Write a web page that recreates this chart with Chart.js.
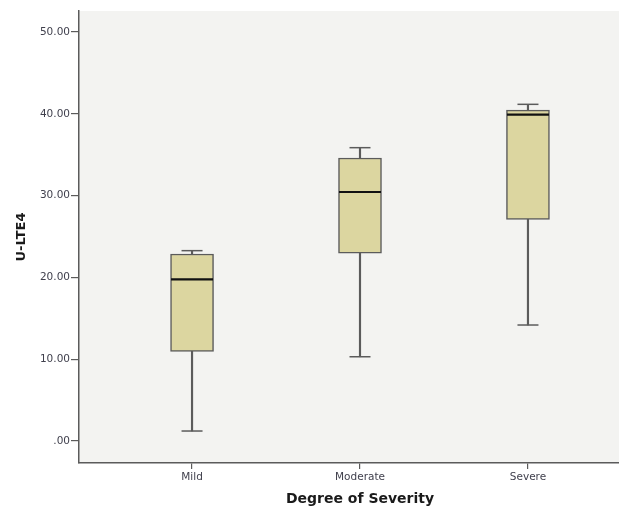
<!DOCTYPE html>
<html>
<head>
<meta charset="utf-8">
<script src="https://cdn.jsdelivr.net/npm/chart.js@4.4.1/dist/chart.umd.min.js"></script>
<style>
  html, body { margin: 0; padding: 0; background: #ffffff; overflow: hidden; }
  canvas { display: block; }
</style>
</head>
<body>
<canvas id="c" width="645" height="509" style="width:645px;height:509px"></canvas>
<script>
// ---- data ----
const categories = ['Mild', 'Moderate', 'Severe'];
const whiskerMin = [1.22, 10.30, 14.18];
const q1Values   = [10.96, 22.95, 27.10];
const medians    = [19.77, 30.44, 39.90];
const q3Values   = [22.86, 34.60, 40.46];
const whiskerMax = [23.27, 35.86, 41.16];
const yTicks     = [0, 10, 20, 30, 40, 50];
const yTitle = 'U-LTE4';
const xTitle = 'Degree of Severity';

const xPos = categories.map((c, i) => i + 1);

const lineCol = '#5b5b5b';
const boxFill = 'rgb(220,214,160)';

const plotBg = {
  id: 'plotBg',
  beforeDraw(chart) {
    const {ctx, chartArea: a} = chart;
    ctx.save();
    ctx.fillStyle = '#f3f3f1';
    ctx.fillRect(a.left, a.top, a.right - a.left, a.bottom - a.top);
    ctx.restore();
  }
};

const capStyle = {
  type: 'line', showLine: false, pointStyle: 'line', pointRadius: 10.5,
  pointHoverRadius: 10.5, pointBorderWidth: 1.5, pointBorderColor: lineCol,
  borderColor: lineCol, order: 1
};

new Chart(document.getElementById('c'), {
  type: 'bar',
  data: {
    datasets: [
      { // upper whisker stem
        data: xPos.map((x, i) => ({x, y: [q3Values[i], whiskerMax[i]]})),
        backgroundColor: lineCol, borderWidth: 0, barThickness: 1.5, grouped: false, order: 3
      },
      { // lower whisker stem
        data: xPos.map((x, i) => ({x, y: [whiskerMin[i], q1Values[i]]})),
        backgroundColor: lineCol, borderWidth: 0, barThickness: 1.5, grouped: false, order: 3
      },
      { // box
        data: xPos.map((x, i) => ({x, y: [q1Values[i], q3Values[i]]})),
        backgroundColor: boxFill, borderColor: lineCol, borderWidth: 1.5,
        borderSkipped: false, barThickness: 43, grouped: false, order: 2
      },
      Object.assign({ data: xPos.map((x, i) => ({x, y: whiskerMax[i]})) }, capStyle),
      Object.assign({ data: xPos.map((x, i) => ({x, y: whiskerMin[i]})) }, capStyle),
      { // median
        type: 'line', showLine: false, pointStyle: 'line', pointRadius: 21,
        pointHoverRadius: 21, pointBorderWidth: 2.2, pointBorderColor: '#111',
        borderColor: '#111', order: 0,
        data: xPos.map((x, i) => ({x, y: medians[i]}))
      }
    ]
  },
  options: {
    responsive: false,
    devicePixelRatio: 1,
    animation: false,
    events: [],
    layout: { autoPadding: false, padding: { top: 11, right: 4, left: 0, bottom: 0 } },
    plugins: { legend: { display: false }, tooltip: { enabled: false } },
    scales: {
      x: {
        type: 'linear',
        offset: false,
        min: 0.327,
        max: 3.673,
        afterFit(s) { s.height = 46; s.paddingLeft = 0; s.paddingRight = 0; },
        afterBuildTicks(s) { s.ticks = xPos.map(v => ({value: v})); },
        grid: { offset: false, drawOnChartArea: false, drawTicks: true, tickLength: 6, color: lineCol, lineWidth: 1.2 },
        border: { color: lineCol, width: 1.5 },
        ticks: {
          padding: 2, color: '#3f3f4c', maxRotation: 0,
          font: { family: 'DejaVu Sans', size: 10.5 },
          callback: v => categories[v - 1] ?? ''
        },
        title: {
          display: true, text: xTitle, color: '#1a1a1a',
          font: { family: 'DejaVu Sans', size: 14, weight: 'bold' },
          padding: { top: 0, bottom: 1 }
        }
      },
      y: {
        min: -2.69,
        max: 52.57,
        afterFit(s) { s.width = 79; s.paddingTop = 0; s.paddingBottom = 0; },
        afterBuildTicks(s) { s.ticks = yTicks.map(v => ({value: v})); },
        grid: { drawOnChartArea: false, drawTicks: true, tickLength: 8, color: lineCol, lineWidth: 1.2 },
        border: { color: lineCol, width: 1.5 },
        ticks: {
          padding: 1, color: '#3f3f4c',
          font: { family: 'DejaVu Sans', size: 10.5 },
          callback: v => v === 0 ? '.00' : v.toFixed(2)
        },
        title: {
          display: true, text: yTitle, color: '#1a1a1a',
          font: { family: 'DejaVu Sans', size: 13, weight: 'bold' },
          padding: { top: 14, bottom: 0 }
        }
      }
    }
  },
  plugins: [plotBg]
});
</script>
</body>
</html>
